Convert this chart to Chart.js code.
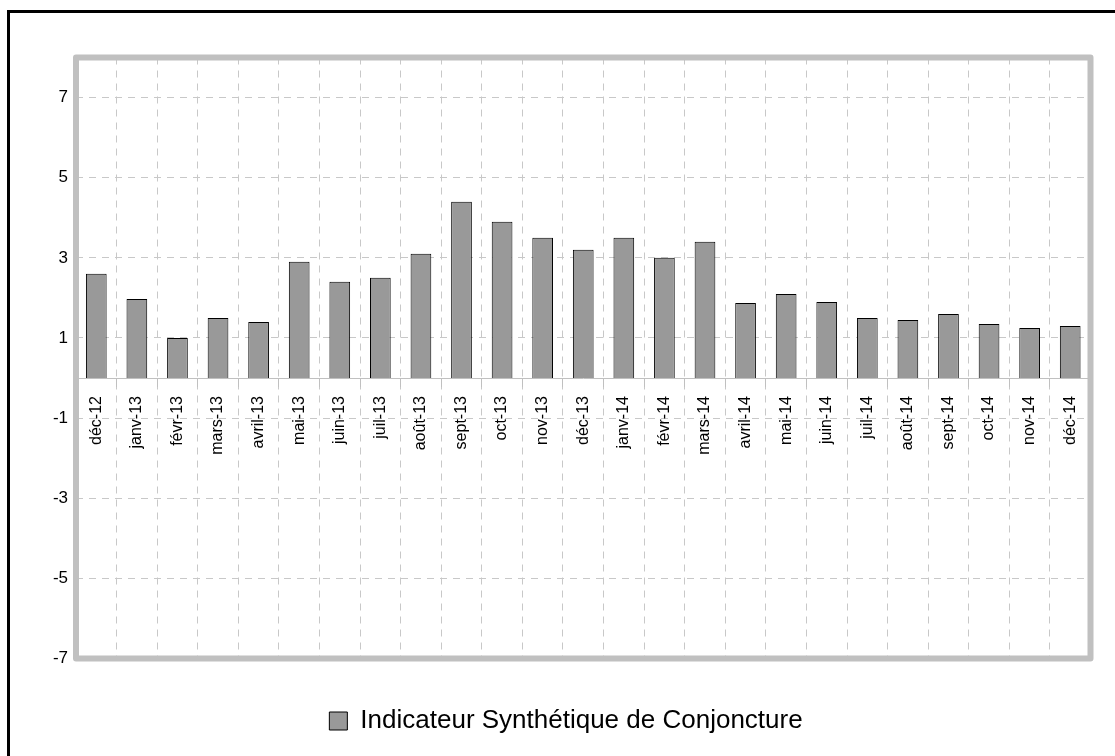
<!DOCTYPE html>
<html>
<head>
<meta charset="utf-8">
<script src="https://cdn.jsdelivr.net/npm/chart.js@4.4.0/dist/chart.umd.min.js"></script>
<style>
  body { margin: 0; overflow: hidden; background: #fff; }
  #frame { position: absolute; left: 7px; top: 10px; width: 1300px; height: 900px; border-left: 3px solid #000; border-top: 3px solid #000; }
  #wrap { position: absolute; left: 0; top: 0; width: 1115px; height: 756px; }
</style>
</head>
<body>
<div id="frame"></div>
<div id="wrap"><canvas id="chart"></canvas></div>
<script>
const categories = [
  "déc-12", "janv-13", "févr-13", "mars-13", "avril-13", "mai-13", "juin-13",
  "juil-13", "août-13", "sept-13", "oct-13", "nov-13", "déc-13", "janv-14",
  "févr-14", "mars-14", "avril-14", "mai-14", "juin-14", "juil-14", "août-14",
  "sept-14", "oct-14", "nov-14", "déc-14"
];
const values = [
  2.6, 1.97, 1.0, 1.5, 1.4, 2.9, 2.4,
  2.5, 3.1, 4.4, 3.9, 3.5, 3.2, 3.5,
  3.0, 3.4, 1.87, 2.1, 1.9, 1.5, 1.45,
  1.6, 1.35, 1.25, 1.3
];
const yTicks = [-7, -5, -3, -1, 1, 3, 5, 7];
const seriesName = "Indicateur Synthétique de Conjoncture";

Chart.defaults.font.family = '"Liberation Sans", Arial, sans-serif';
Chart.defaults.color = "#000";

// thick grey frame round the plot area
const plotFrame = {
  id: "plotFrame",
  afterDraw(chart) {
    const { ctx, chartArea: a } = chart;
    ctx.save();
    ctx.strokeStyle = "#c0c0c0";
    ctx.lineWidth = 6;
    ctx.lineJoin = "round";
    ctx.strokeRect(a.left, a.top, a.right - a.left, a.bottom - a.top);
    ctx.restore();
  }
};

new Chart(document.getElementById("chart"), {
  type: "bar",
  data: {
    labels: categories,
    datasets: [
      {
        label: seriesName,
        data: values,
        backgroundColor: "#999999",
        borderColor: "#000",
        borderWidth: 1,
        barPercentage: 0.51,
        categoryPercentage: 1
      }
    ]
  },
  options: {
    responsive: true,
    maintainAspectRatio: false,
    animation: false,
    layout: { padding: { left: 41.5, right: 24.5, top: 57.5, bottom: 12 } },
    scales: {
      x: {
        position: { y: 0 },
        grid: { color: "#c8c8c8", offset: true, tickLength: 8, tickColor: "#c0c0c0" },
        border: { display: true, color: "#c0c0c0", width: 1, dash: [7, 6] },
        ticks: { minRotation: 90, maxRotation: 90, autoSkip: false, padding: 10, font: { size: 16 } }
      },
      y: {
        min: -7,
        max: 8,
        afterBuildTicks: (s) => { s.ticks = yTicks.map((v) => ({ value: v })); },
        grid: { color: "#c8c8c8", drawTicks: false },
        border: { display: false, dash: [7, 6] },
        ticks: { padding: 8, font: { size: 17 } },
        afterFit: (s) => { s.width = 34.5; }
      }
    },
    plugins: {
      legend: {
        position: "bottom",
        labels: { boxWidth: 18, boxHeight: 18, padding: 49.5, font: { size: 26 }, color: "#000" }
      },
      tooltip: { enabled: false }
    }
  },
  plugins: [plotFrame]
});
</script>
</body>
</html>
